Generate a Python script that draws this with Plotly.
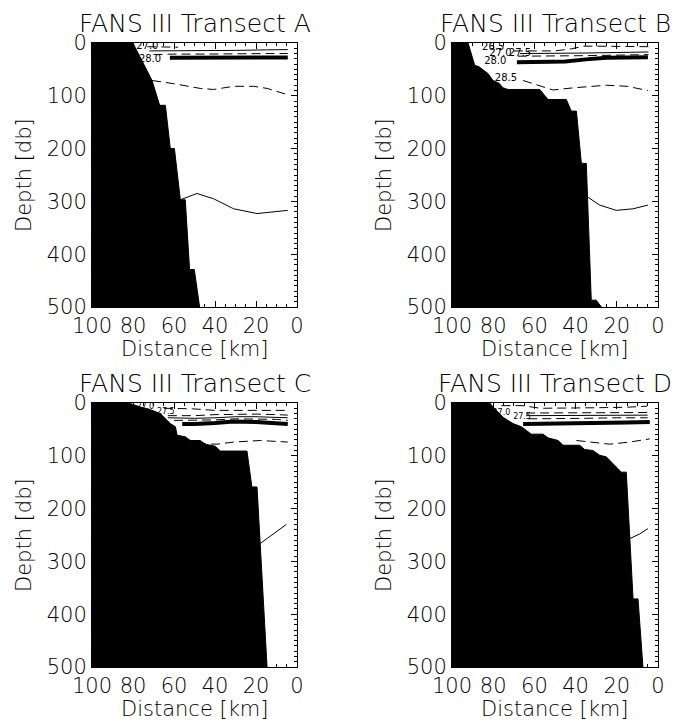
import plotly.graph_objects as go

# ---- data: distance [km], depth [db] ----

# bottom profile of each transect (shelf edge -> 500 db)
A_bottom_km = [100, 80, 79, 76, 72.5, 70.7, 67.0, 64.2, 61.8, 59.8, 56.9, 54.5, 52.4, 50.1, 47.5]
A_bottom_db = [0, 0, 8, 30, 55, 71, 118, 118, 200, 200, 297, 297, 429, 429, 500]

B_bottom_km = [100, 92.2, 89, 86.9, 82.5, 80.1, 77.2, 75.2, 72.8, 57.4, 53.4, 44.5, 42.1, 39.6,
               37.2, 34.8, 32.4, 30, 27.5]
B_bottom_db = [0, 0, 42, 45, 58, 71, 76, 85, 88, 88, 107, 107, 129, 129, 228, 228, 487, 487, 500]

C_bottom_km = [100, 82.1, 76.4, 71.5, 66.7, 64.2, 61.8, 59.3, 58.5, 54.5, 52.0, 47.2, 44.7, 39.8,
               37.4, 24.4, 22.0, 19.5, 14.6]
C_bottom_db = [0, 0, 7.6, 12.6, 20, 30, 39, 45, 61, 64, 71, 71, 78, 82, 91, 91, 159, 159, 500]

D_bottom_km = [100, 81.7, 78.5, 75.2, 70.4, 66.3, 63.9, 61.5, 55.8, 53.4, 48.5, 46.1, 38.0, 35.6,
               31.6, 28.3, 25.1, 22.7, 17.8, 15.4, 12.1, 9.7, 7.3]
D_bottom_db = [0, 0, 14, 27, 39, 45, 52, 59, 59, 66, 71, 80, 80, 88, 90, 99, 102, 112, 131, 131,
               371, 371, 500]

# density contours (sigma-t), transect A
A_265_km = [73, 66, 58]
A_265_db = [7, 7, 8]
A_270_km = [72, 60, 45, 30, 15, 4.5]
A_270_db = [15, 15, 15, 14, 13, 12.5]
A_275_km = [70, 60, 45, 30, 15, 4.5]
A_275_db = [22, 21, 21, 20, 20, 20]
A_280_km = [62, 50, 40, 30, 20, 10, 4.5]
A_280_db = [28, 28, 29, 28, 27.5, 27.5, 27.5]
A_285_km = [70.7, 60.2, 47.2, 40.7, 30.9, 21.1, 14.6, 4.5]
A_285_db = [71, 77, 86, 88, 82, 82, 86, 98]
A_deep_km = [56.9, 48.8, 40.7, 30.9, 19.5, 11.4, 4.5]
A_deep_db = [297, 285, 295, 314, 323, 320, 317]

# transect B
B_265_km = [70, 60, 50, 42, 36, 30, 20, 10, 4.6]
B_265_db = [15, 15, 15, 11, 6, 6, 6, 6, 7]
B_270_km = [67, 50, 35, 20, 4.6]
B_270_db = [20, 20, 19, 18, 17]
B_275_km = [68, 50, 35, 20, 4.6]
B_275_db = [25, 25, 24, 23, 22]
B_280_km = [68.5, 55, 45, 35, 25, 15, 4.9]
B_280_db = [36.5, 36, 35, 31, 28, 27.5, 27]
B_285_km = [65.5, 58, 51, 41.3, 33, 25.1, 15, 4.9]
B_285_db = [71, 80, 89, 85, 82, 80, 82, 90]
B_deep_km = [34.8, 28.3, 20.2, 12.1, 4.9]
B_deep_db = [290, 307, 317, 314, 307]

# transect C
C_265_km = [65, 51, 40, 30, 20, 10, 4.5]
C_265_db = [10, 11, 14, 14, 14, 14, 14]
C_270_km = [63, 50, 40, 30, 20, 10, 4.5]
C_270_db = [24, 24, 22, 21, 21, 22, 23]
C_272_km = [63, 50, 40, 30, 20, 10, 4.5]
C_272_db = [28, 29, 28, 26, 26, 27, 28]
C_275_km = [60, 50, 40, 30, 20, 10, 4.5]
C_275_db = [33, 33, 32, 30, 30, 31, 33]
C_280_km = [56, 50, 40, 30.9, 20, 10, 4.5]
C_280_db = [40, 40, 38, 35, 36, 38, 40]
C_285_km = [48.8, 39, 30.9, 17.9, 4.5]
C_285_db = [77, 78, 74, 71, 74]
C_deep_km = [17.9, 11.4, 5.2]
C_deep_db = [266, 247, 230]

# transect D
D_265_km = [76, 66, 57, 45, 30, 15, 5.3]
D_265_db = [5, 5, 10, 10, 9, 8, 6]
D_270_km = [64, 50, 35, 20, 5]
D_270_db = [19, 19, 19, 18, 18]
D_272_km = [64, 50, 35, 20, 5]
D_272_db = [24, 24, 24, 23, 23]
D_275_km = [63, 50, 35, 20, 5]
D_275_db = [30, 30, 29, 28, 28]
D_280_km = [65.5, 50, 41.3, 25.1, 15, 4]
D_280_db = [40, 39.5, 39, 38, 37, 36]
D_285_km = [39.6, 30, 23.5, 13.8, 4]
D_285_db = [71, 76, 78, 74, 68]
D_deep_km = [13.8, 8.9, 4.9]
D_deep_db = [257, 248, 238]

# contour labels
A_lab_text = ["27.0", "28.0"]
A_lab_km = [73, 71.7]
A_lab_db = [7, 31]
B_lab_text = ["26.5", "27.0", "27.5", "28.0", "28.5"]
B_lab_km = [80, 76.5, 67, 79, 73.8]
B_lab_db = [8, 20, 20, 35, 68]
C_lab_text = ["27.0", "27.5"]
C_lab_km = [74, 64]
C_lab_db = [7, 17]
D_lab_text = ["27.0", "27.5"]
D_lab_km = [76, 66]
D_lab_db = [18, 26]

xticks = [100, 80, 60, 40, 20, 0]
yticks = [0, 100, 200, 300, 400, 500]

# ---- figure ----
W, H = 677, 720
FONT = "DejaVu Sans"
TXT = "black"

thin = dict(color="black", width=1)
dash = dict(color="black", width=1, dash="9px,5px")
thick = dict(color="black", width=4)

panels = [
    ("A", A_bottom_km, A_bottom_db,
     [(A_265_km, A_265_db, dash), (A_270_km, A_270_db, thin), (A_275_km, A_275_db, dash),
      (A_280_km, A_280_db, thick), (A_285_km, A_285_db, dash), (A_deep_km, A_deep_db, thin)],
     (A_lab_text, A_lab_km, A_lab_db, 10)),
    ("B", B_bottom_km, B_bottom_db,
     [(B_265_km, B_265_db, dash), (B_270_km, B_270_db, thin), (B_275_km, B_275_db, dash),
      (B_280_km, B_280_db, thick), (B_285_km, B_285_db, dash), (B_deep_km, B_deep_db, thin)],
     (B_lab_text, B_lab_km, B_lab_db, 10)),
    ("C", C_bottom_km, C_bottom_db,
     [(C_265_km, C_265_db, dash), (C_270_km, C_270_db, dash), (C_272_km, C_272_db, thin),
      (C_275_km, C_275_db, dash), (C_280_km, C_280_db, thick), (C_285_km, C_285_db, dash),
      (C_deep_km, C_deep_db, thin)],
     (C_lab_text, C_lab_km, C_lab_db, 8)),
    ("D", D_bottom_km, D_bottom_db,
     [(D_265_km, D_265_db, dash), (D_270_km, D_270_db, dash), (D_272_km, D_272_db, thin),
      (D_275_km, D_275_db, dash), (D_280_km, D_280_db, thick), (D_285_km, D_285_db, dash),
      (D_deep_km, D_deep_db, thin)],
     (D_lab_text, D_lab_km, D_lab_db, 8)),
]

# plot boxes in window pixels: left, right, top, bottom
boxes = [(92, 297, 43, 307), (452, 658, 43, 307), (92, 297, 403, 667), (452, 658, 403, 667)]


def px(xp):
    return xp / W


def py(yp):
    return 1 - yp / H


fig = go.Figure()
annotations = []
for i, (name, bkm, bdb, contours, labels) in enumerate(panels):
    n = "" if i == 0 else str(i + 1)
    xa, ya = "x" + n, "y" + n
    for km, db, style in contours:
        fig.add_trace(go.Scatter(x=km, y=db, mode="lines", line=style,
                                 xaxis=xa, yaxis=ya, hoverinfo="skip"))
    fig.add_trace(go.Scatter(x=bkm + [100], y=bdb + [500], mode="lines", fill="toself",
                             fillcolor="black", line=dict(color="black", width=1),
                             xaxis=xa, yaxis=ya, hoverinfo="skip"))
    txt, lkm, ldb, fs = labels
    fig.add_trace(go.Scatter(x=lkm, y=ldb, mode="text", text=txt,
                             textfont=dict(family=FONT, size=fs, color="black"),
                             xaxis=xa, yaxis=ya, hoverinfo="skip"))

    l, r, t, b = boxes[i]
    axis_common = dict(showgrid=False, zeroline=False, showline=True, linecolor="black",
                       linewidth=1, mirror="allticks", ticks="inside", ticklen=6,
                       tickcolor="black", automargin=False,
                       tickfont=dict(family=FONT, size=21, color=TXT, weight=200))
    fig.layout["xaxis" + n] = dict(
        axis_common, domain=[px(l), px(r)], range=[100, 0], tickvals=xticks, anchor=ya,
        minor=dict(ticks="inside", ticklen=3, tick0=0, dtick=5, tickcolor="black"))
    fig.layout["yaxis" + n] = dict(
        axis_common, domain=[py(b), py(t)], range=[500, 0], tickvals=yticks, anchor=xa,
        minor=dict(ticks="inside", ticklen=3, tick0=0, dtick=10, tickcolor="black"))

    cx = px((l + r) / 2)
    annotations.append(dict(text="FANS III Transect " + name, xref="paper", yref="paper",
                            x=cx, y=py(t - 20), xanchor="center", yanchor="middle",
                            showarrow=False,
                            font=dict(family=FONT, size=25, color=TXT, weight=200)))
    annotations.append(dict(text="Distance [km]", xref="paper", yref="paper",
                            x=cx, y=py(b + 42), xanchor="center", yanchor="middle",
                            showarrow=False,
                            font=dict(family=FONT, size=21, color=TXT, weight=200)))
    annotations.append(dict(text="Depth [db]", xref="paper", yref="paper", textangle=-90,
                            x=px(l - 68), y=py((t + b) / 2), xanchor="center",
                            yanchor="middle", showarrow=False,
                            font=dict(family=FONT, size=21, color=TXT, weight=200)))

fig.update_layout(width=W, height=H,
                  margin=dict(l=0, r=0, t=0, b=0, pad=0, autoexpand=False),
                  plot_bgcolor="white", paper_bgcolor="white", showlegend=False,
                  annotations=annotations)
# drop the default 8px body margin so the figure fills the window
fig.write_html("out.html", config={"displayModeBar": False},
               post_script="document.body.style.margin = '0px';")
